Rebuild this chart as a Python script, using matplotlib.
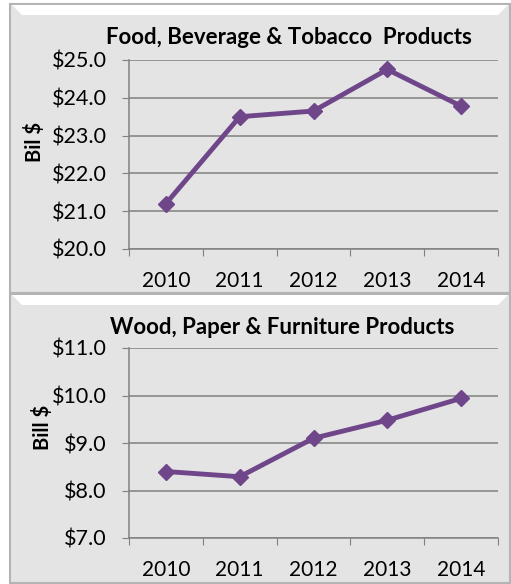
import matplotlib
matplotlib.use("Agg")
from matplotlib import pyplot as plt
from matplotlib.patches import Rectangle, Polygon
import numpy as np

years = ["2010", "2011", "2012", "2013", "2014"]
food_values = [21.2, 23.5, 23.65, 24.75, 23.78]
wood_values = [8.4, 8.29, 9.1, 9.48, 9.94]

W, H = 511, 584
plt.rcParams['font.family'] = ['Lato', 'DejaVu Sans']

fig = plt.figure(figsize=(W / 100, H / 100), dpi=100)
fig.patch.set_facecolor("white")


def px(x, y):
    return x / W, 1 - y / H


def panel(top, bottom):
    x0, y0 = px(10, bottom)
    x1, y1 = px(510, top)
    fig.patches.append(Rectangle((x0, y0), x1 - x0, y1 - y0, transform=fig.transFigure,
                                 facecolor="#e4e4e4", edgecolor="#b4b4b4", linewidth=1.5, zorder=-2))
    band = [px(12, top + 1), px(508, top + 1), px(498, top + 11), px(22, top + 11)]
    fig.patches.append(Polygon(band, closed=True, transform=fig.transFigure,
                               facecolor="white", edgecolor="none", zorder=-1))


panel(4, 293)
panel(294, 583)


def chart(top, bottom, values, ylim, title, title_xy, ylabel, ylabel_xy):
    l, b = px(129, bottom)
    r, t = px(498, top)
    ax = fig.add_axes([l, b, r - l, t - b])
    ax.set_facecolor("none")
    x = np.arange(len(years))
    ax.plot(x, values, color="#70468a", linewidth=3.5, marker="D", markersize=8.5, zorder=3)
    ax.set_xlim(-0.5, len(years) - 0.5)
    ax.set_ylim(*ylim)
    ax.set_yticks(np.arange(ylim[0], ylim[1] + 0.5, 1.0))
    ax.set_yticklabels(["$%.1f" % v for v in np.arange(ylim[0], ylim[1] + 0.5, 1.0)])
    ax.set_xticks(np.arange(-0.5, len(years), 1.0))
    ax.set_xticklabels([])
    ax.set_xticks(x, minor=True)
    ax.set_xticklabels(years, minor=True)
    ax.tick_params(axis="x", which="minor", length=0, pad=16, labelsize=15)
    ax.tick_params(axis="x", which="major", length=5, color="#808080", direction="out")
    ax.tick_params(axis="y", length=5, color="#808080", pad=11, labelsize=15.5)
    ax.grid(axis="y", color="#808080", linewidth=1.1)
    ax.set_axisbelow(True)
    for side in ["top", "right"]:
        ax.spines[side].set_visible(False)
    for side in ["left", "bottom"]:
        ax.spines[side].set_color("#808080")
        ax.spines[side].set_linewidth(1.1)
    fig.text(*px(*title_xy), title, ha="center", va="center", fontsize=16, fontweight="bold")
    fig.text(*px(*ylabel_xy), ylabel, ha="center", va="center", rotation=90,
             fontsize=14.5, fontweight="bold")
    return ax


chart(60, 249, food_values, (20, 25), "Food, Beverage & Tobacco  Products", (289, 38),
      "Bil $", (34, 142))
chart(348, 538, wood_values, (7, 11), "Wood, Paper & Furniture Products", (282, 327),
      "Bill $", (42, 427))

fig.savefig("out.png", dpi=100)
